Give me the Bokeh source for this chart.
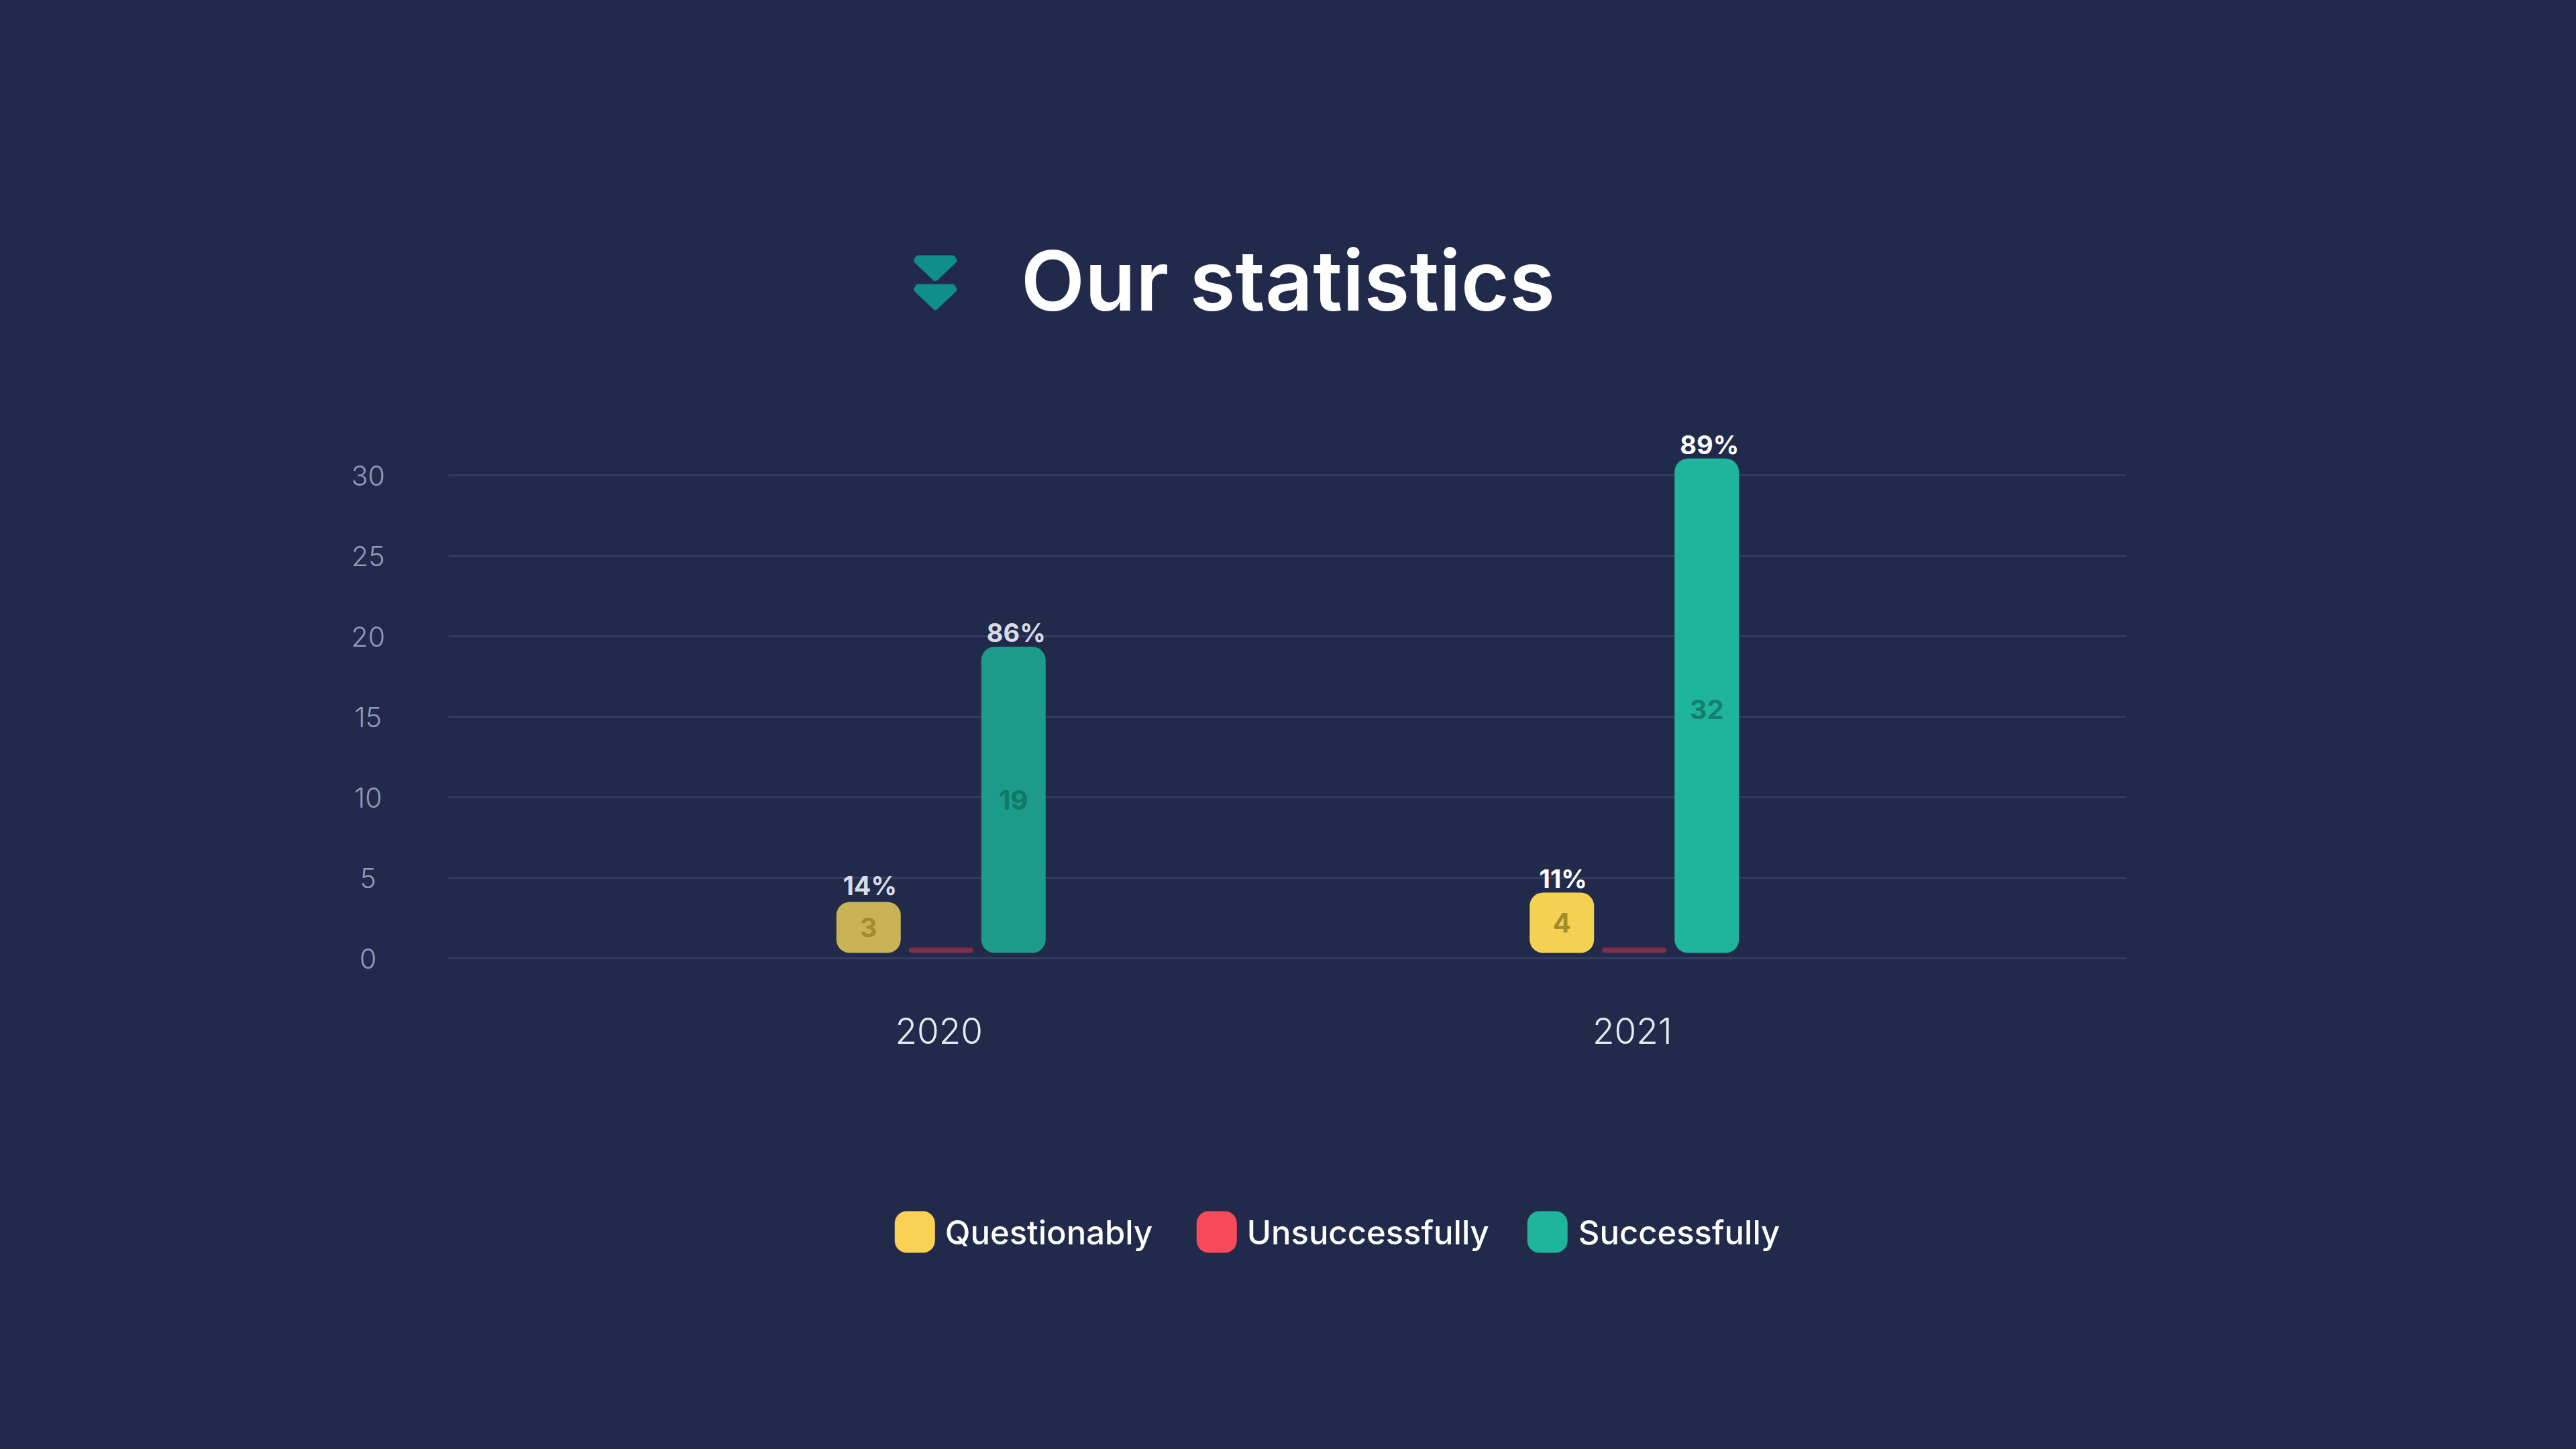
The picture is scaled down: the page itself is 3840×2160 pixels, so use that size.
from bokeh.core.properties import value
from bokeh.embed import file_html
from bokeh.models import ColumnDataSource, FactorRange, Range1d
from bokeh.plotting import figure
from bokeh.resources import INLINE
from bokeh.transform import dodge

# ---------- data ----------
years = ["2020", "2021"]
tick_values = [0, 5, 10, 15, 20, 25, 30]
tick_labels = ["0", "5", "10", "15", "20", "25", "30"]

# labelled values
questionably_labels = ["3", "4"]
successfully_labels = ["19", "32"]
questionably_pct = ["14%", "11%"]
successfully_pct = ["86%", "89%"]

# bar extents
bar_base = [0.33, 0.33]
questionably_top = [3.5, 4.08]
unsuccessfully_top = [0.67, 0.67]
successfully_top = [19.35, 31.04]

series_names = ["Questionably", "Unsuccessfully", "Successfully"]
series_colors = ["#F9D255", "#F94A5C", "#1FB59D"]

questionably_bar_colors = ["#C9B455", "#F5D153"]
unsuccessfully_bar_colors = ["#7E2F45", "#7E2F45"]
successfully_bar_colors = ["#1C9A8A", "#1FB59D"]
questionably_text_colors = ["#A08C2A", "#A08C2A"]
successfully_text_colors = ["#0F7868", "#137F70"]
pct_colors = ["#D8DCE6", "#FFFFFF"]

BG = "#212A4A"
FONT = value("Inter")
FONT_TITLE = value("Inter SemiBold")
FONT_MEDIUM = value("Inter Medium")
FONT_LIGHT = value("Inter Light")
W, H = 3824, 2144

# The frame fills the canvas so nothing outside the bars' area is clipped.
PX_PER_FACTOR = 1033.5
PX_PER_UNIT = 24.0
FACTOR_ORIGIN_PX = 1402 - PX_PER_FACTOR / 2
ZERO_PX = 1428

def fx(px):
    return (px - FACTOR_ORIGIN_PX) / PX_PER_FACTOR

def fy(px):
    return (ZERO_PX - px) / PX_PER_UNIT

half_px = (W - 14) / 2
p = figure(
    width=W, height=H, output_backend="svg", toolbar_location=None,
    x_range=FactorRange(factors=years, range_padding=half_px / PX_PER_FACTOR - 1),
    y_range=Range1d(fy(H), fy(0)),
    background_fill_color=BG, border_fill_color=BG, outline_line_color=None,
    min_border_left=14, min_border_right=0, min_border_top=0, min_border_bottom=0,
)
p.xgrid.visible = False
p.ygrid.visible = False
p.xaxis.visible = False
p.yaxis.visible = False

# grid
p.segment(x0=[fx(668)] * len(tick_values), x1=[fx(3169)] * len(tick_values),
          y0=tick_values, y1=tick_values, line_color="#323C5F", line_width=3)

src = ColumnDataSource(dict(
    year=years, base=bar_base,
    qtop=questionably_top, utop=unsuccessfully_top, stop=successfully_top,
    qmid=[(a + b) / 2 for a, b in zip(questionably_top, bar_base)],
    smid=[(a + b) / 2 for a, b in zip(successfully_top, bar_base)],
    qlab=questionably_labels, slab=successfully_labels,
    qpct=questionably_pct, spct=successfully_pct,
    qcol=questionably_bar_colors, ucol=unsuccessfully_bar_colors, scol=successfully_bar_colors,
    qtxt=questionably_text_colors, stxt=successfully_text_colors, pcol=pct_colors,
    soff=[0, 5], qpoff=[-25, -21], ybase=[fy(1536)] * len(years),
))

STEP = 108 / PX_PER_FACTOR
BW = 96 / PX_PER_FACTOR
xq = dodge("year", -STEP, range=p.x_range)
xu = dodge("year", 0, range=p.x_range)
xs = dodge("year", STEP, range=p.x_range)

p.vbar(x=xq, bottom="base", top="qtop", width=BW, fill_color="qcol", line_color=None,
       border_radius=20, source=src)
p.vbar(x=xu, bottom="base", top="utop", width=BW, fill_color="ucol", line_color=None,
       border_radius=4, source=src)
p.vbar(x=xs, bottom="base", top="stop", width=BW, fill_color="scol", line_color=None,
       border_radius=20, source=src)

common_in = dict(text_font=FONT, text_font_size="40px", text_font_style="bold",
                 text_align="center", text_baseline="middle", source=src)
p.text(x=xq, y="qmid", text="qlab", text_color="qtxt", **common_in)
p.text(x=xs, y="smid", text="slab", text_color="stxt", y_offset="soff", **common_in)

common_pct = dict(text_font=FONT, text_font_size="38px", text_font_style="bold",
                  text_align="center", text_baseline="alphabetic",
                  text_color="pcol", source=src)
p.text(x=xq, y="qtop", text="qpct", x_offset=2, y_offset="qpoff", **common_pct)
p.text(x=xs, y="stop", text="spct", x_offset=4, y_offset=-21, **common_pct)

# category labels
p.text(x="year", y="ybase", text="year", x_offset=-3, text_font=FONT_LIGHT, text_font_size="53px",
       text_align="center", text_baseline="alphabetic", text_color="#E6EAF2", source=src)

# y tick labels
p.text(x=[fx(548)] * len(tick_values), y=tick_values, text=tick_labels, text_font=FONT_LIGHT,
       text_font_size="41px", text_align="center", text_baseline="middle",
       text_color="#8E9BBB")

# title
p.text(x=[fx(1521)], y=[fy(417)], text=["Our statistics"], text_font=FONT_TITLE,
       text_font_size="124px", text_color="#FFFFFF",
       text_align="left", text_baseline="alphabetic")

# icon
for off in (0, 43):
    p.patch(x=[fx(v) for v in (1368, 1419, 1421, 1393.5, 1366)],
            y=[fy(v + off) for v in (384.5, 384.5, 388, 414, 388)],
            fill_color="#0E8F88", line_color="#0E8F88", line_width=9, line_join="round")

# legend
swatch_left = [1333, 1783, 2276]
text_left = [1408, 1858, 2352]
p.quad(left=[fx(v) for v in swatch_left], right=[fx(v + 60) for v in swatch_left],
       top=[fy(1805)] * 3, bottom=[fy(1867)] * 3, fill_color=series_colors, line_color=None,
       border_radius=18)
p.text(x=[fx(v) for v in text_left], y=[fy(1837)] * 3, text=series_names, text_font=FONT_MEDIUM,
       text_font_size="49px", text_color="#FFFFFF", text_align="left",
       text_baseline="alphabetic")

html = file_html(p, INLINE)
html = html.replace("</head>", "<style>html, body { background: #212A4A; }</style></head>", 1)
open("out.html", "w").write(html)
